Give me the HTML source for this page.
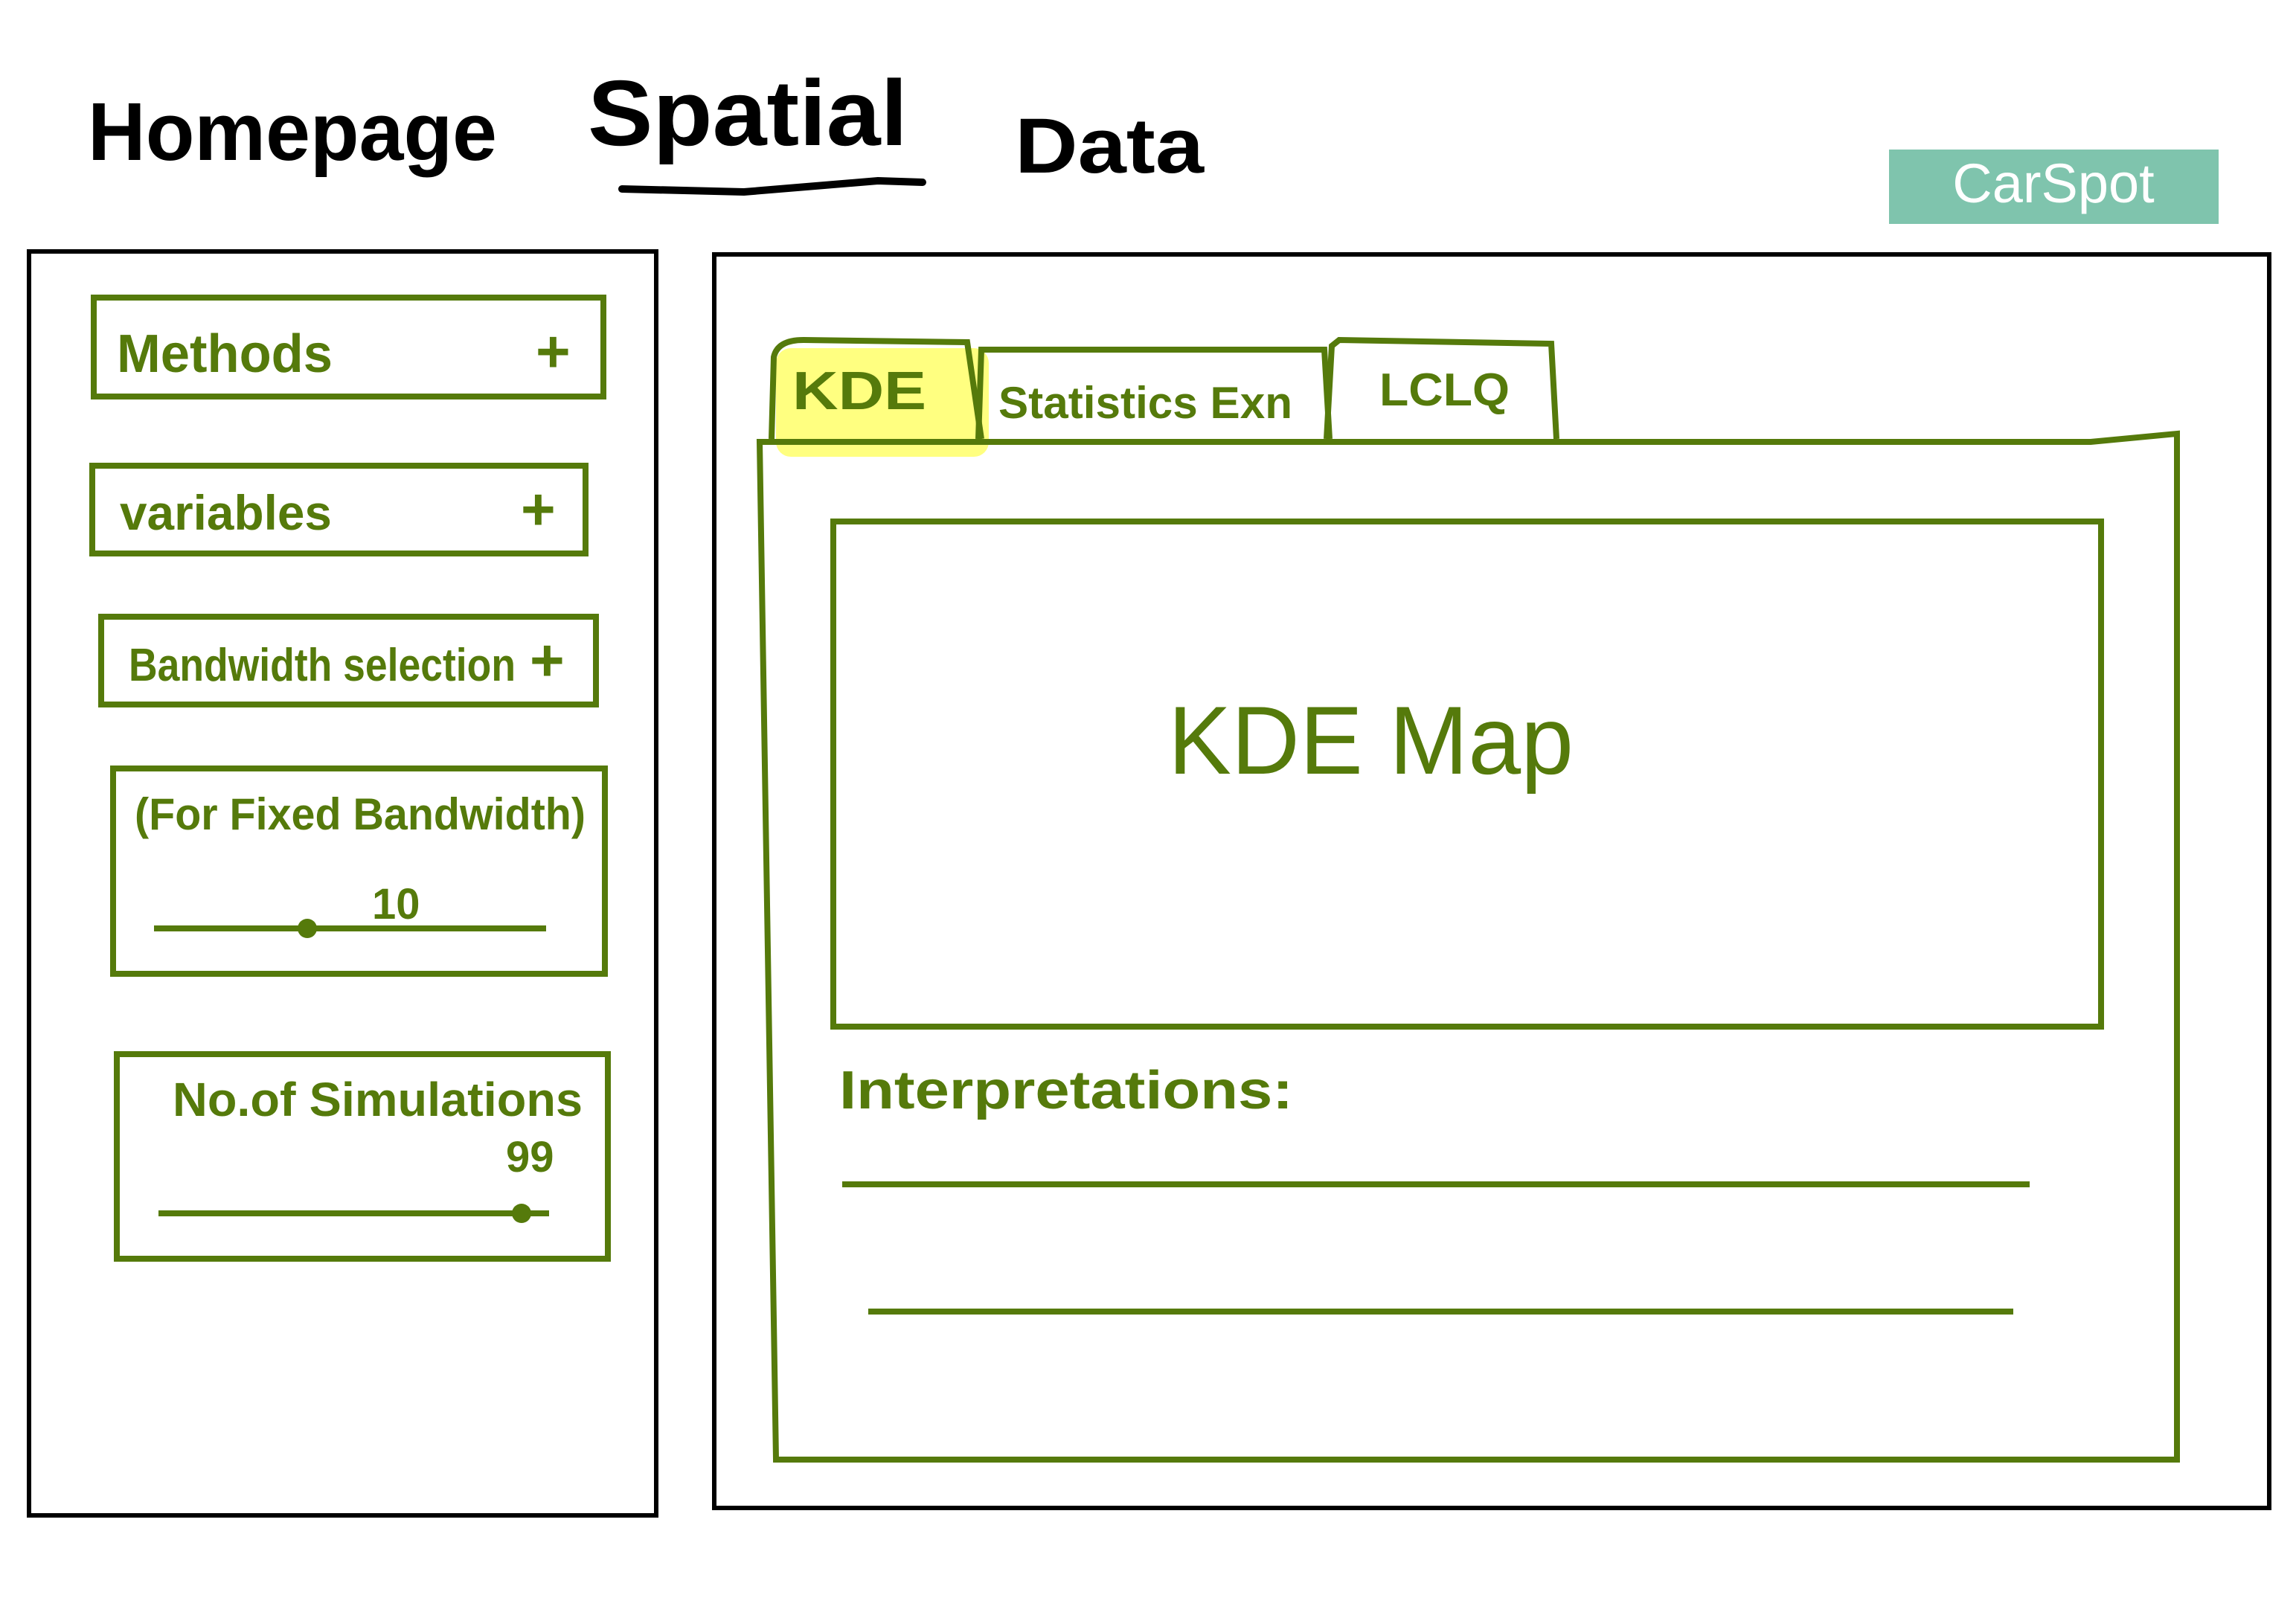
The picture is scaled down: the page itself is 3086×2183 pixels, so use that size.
<!DOCTYPE html>
<html><head><meta charset="utf-8"><style>
html,body{margin:0;padding:0;background:#fff;}
svg{display:block;}
text{font-family:"Liberation Sans",sans-serif;font-weight:bold;}
</style></head><body>
<svg width="3086" height="2183" viewBox="0 0 3086 2183" xmlns="http://www.w3.org/2000/svg">
<rect width="3086" height="2183" fill="#fff"/>
<text x="118" y="215" font-size="110" fill="#000" textLength="550" lengthAdjust="spacingAndGlyphs">Homepage</text>
<text x="790" y="195" font-size="125" fill="#000" textLength="430" lengthAdjust="spacingAndGlyphs">Spatial</text>
<path d="M836 254 L1000 258 L1180 243 L1240 245" stroke="#000" stroke-width="10" fill="none" stroke-linecap="round"/>
<text x="1364" y="232" font-size="105" fill="#000" textLength="254" lengthAdjust="spacingAndGlyphs">Data</text>
<rect x="2539" y="201" width="443" height="100" fill="#7fc4ad"/>
<text x="2760" y="272" font-size="74" fill="#fff" text-anchor="middle" style="font-weight:normal">CarSpot</text>
<rect x="39" y="338" width="843" height="1699" fill="none" stroke="#000" stroke-width="6"/>
<rect x="960" y="342" width="2090" height="1685" fill="none" stroke="#000" stroke-width="6"/>
<g fill="none" stroke="#557a0b" stroke-width="8">
<rect x="126" y="400" width="685" height="133"/>
<rect x="124" y="626" width="663" height="118"/>
<rect x="136" y="829" width="665" height="118"/>
<rect x="152" y="1033" width="661" height="276"/>
<rect x="157" y="1417" width="660" height="275"/>
<line x1="207" y1="1248" x2="734" y2="1248"/>
<line x1="213" y1="1631" x2="738" y2="1631"/>
</g>
<circle cx="413" cy="1248" r="13" fill="#557a0b"/>
<circle cx="701" cy="1631" r="13" fill="#557a0b"/>
<g fill="#557a0b">
<text x="157" y="500" font-size="72" textLength="290" lengthAdjust="spacingAndGlyphs">Methods</text>
<text x="720" y="500" font-size="80">+</text>
<text x="161" y="712" font-size="66" textLength="285" lengthAdjust="spacingAndGlyphs">variables</text>
<text x="700" y="712" font-size="80">+</text>
<text x="173" y="915" font-size="62" textLength="520" lengthAdjust="spacingAndGlyphs">Bandwidth selection</text>
<text x="712" y="915" font-size="80">+</text>
<text x="181" y="1115" font-size="60" textLength="606" lengthAdjust="spacingAndGlyphs">(For Fixed Bandwidth)</text>
<text x="500" y="1235" font-size="58">10</text>
<text x="232" y="1500" font-size="64" textLength="551" lengthAdjust="spacingAndGlyphs">No.of Simulations</text>
<text x="680" y="1575" font-size="58">99</text>
</g>
<rect x="1043" y="468" width="286" height="146" rx="20" fill="#ffff80"/>
<g fill="none" stroke="#557a0b" stroke-width="8">
<path d="M1037 590 L1040 480 Q1045 457 1080 457 L1300 460 L1319 590"/>
<path d="M1315 590 L1319 470 L1780 470 L1787 590"/>
<path d="M1783 590 L1790 465 L1800 457 L2085 462 L2092 590"/>
<path d="M1021 594 L2810 594 L2926 583 L2926 1962 L1043 1962 Z"/>
<rect x="1120" y="701" width="1704" height="679"/>
<line x1="1132" y1="1592" x2="2728" y2="1592"/>
<line x1="1167" y1="1763" x2="2706" y2="1763"/>
</g>
<g fill="#557a0b">
<text x="1065" y="550" font-size="72" textLength="180" lengthAdjust="spacingAndGlyphs">KDE</text>
<text x="1342" y="562" font-size="60" textLength="395" lengthAdjust="spacingAndGlyphs">Statistics Exn</text>
<text x="1854" y="545" font-size="62" textLength="175" lengthAdjust="spacingAndGlyphs">LCLQ</text>
<text x="1570" y="1040" font-size="130" style="font-weight:normal" textLength="545" lengthAdjust="spacingAndGlyphs">KDE Map</text>
<text x="1128" y="1490" font-size="72" textLength="610" lengthAdjust="spacingAndGlyphs">Interpretations:</text>
</g>
</svg>
</body></html>
